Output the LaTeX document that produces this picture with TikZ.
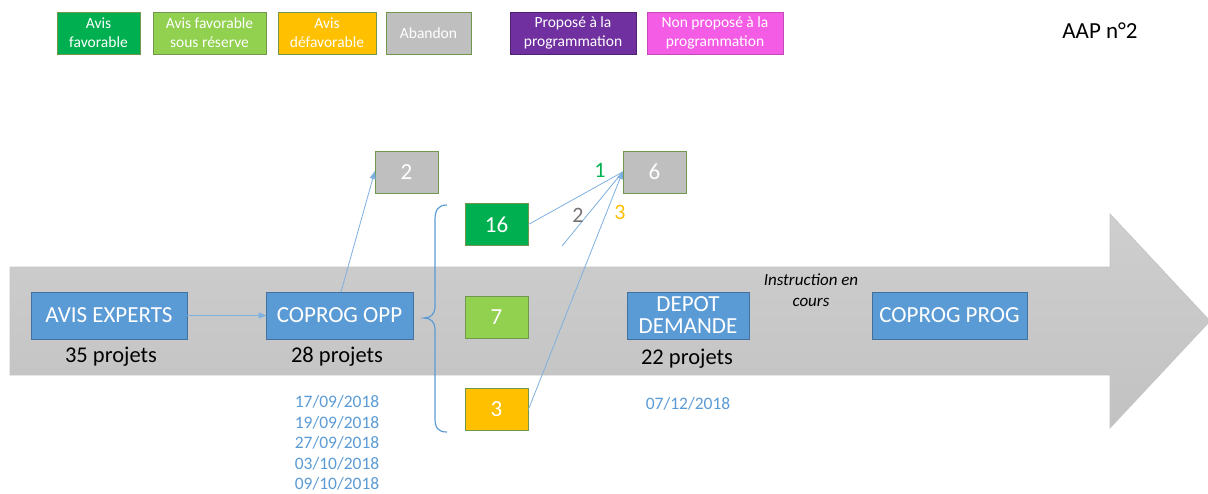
\documentclass[tikz,border=0pt]{standalone}
\usepackage{fontspec}
\setmainfont{Carlito}
\usetikzlibrary{arrows.meta}
\definecolor{cgreen}{HTML}{00B050}
\definecolor{clight}{HTML}{92D050}
\definecolor{corange}{HTML}{FFC000}
\definecolor{cgray}{HTML}{BFBFBF}
\definecolor{cpurple}{HTML}{7030A0}
\definecolor{cpink}{HTML}{F55CE6}
\definecolor{cblue}{HTML}{5B9BD5}
\definecolor{cblueb}{HTML}{41719C}
\definecolor{cedge}{HTML}{71964E}
\definecolor{clink}{HTML}{7EB0E0}
\definecolor{cnum}{HTML}{767171}
\tikzset{
  legend/.style={draw=cedge, line width=0.8pt, text=white, inner sep=0pt,
    minimum height=42, align=center, font=\fontsize{15.5}{19}\selectfont},
  stage/.style={draw=cblueb, fill=cblue, line width=0.8pt, text=white, inner sep=0pt,
    minimum height=47, align=center, font=\fontsize{23}{25}\selectfont},
  result/.style={draw=cedge, line width=0.8pt, text=white, inner sep=0pt,
    minimum width=63, minimum height=42, font=\fontsize{23}{25}\selectfont},
  count/.style={font=\fontsize{22.5}{24}\selectfont, text=black},
  date/.style={font=\fontsize{17.5}{20.5}\selectfont, text=cblue, align=center},
  branch/.style={font=\fontsize{22}{24}\selectfont},
  link/.style={draw=clink, line width=0.8pt},
  linkarrow/.style={link, -{Triangle[length=8pt,width=6pt]}, shorten >=-1pt},
  brace/.style={draw=cblue, line width=1.2pt},
}
\begin{document}
\begin{tikzpicture}[x=1pt,y=-1pt]
\useasboundingbox (0,0) rectangle (1208,493);

% timeline arrow
\path[draw=cgray!90, line width=0.8pt, top color=gray!38, bottom color=gray!48]
  (10,267) -- (1110,267) -- (1110,214) -- (1210,321) -- (1110,428)
  -- (1110,375) -- (10,375) -- cycle;

% legend
\node[legend, fill=cgreen, minimum width=83] (lg1) at (98.5,33) {Avis\\favorable};
\node[legend, fill=clight, minimum width=113] (lg2) at (209.5,33) {Avis favorable\\sous réserve};
\node[legend, fill=corange, minimum width=98] (lg3) at (327,33) {Avis\\défavorable};
\node[legend, fill=cgray, minimum width=85] (lg4) at (428.5,33) {Abandon};
\node[legend, fill=cpurple, draw=cpurple!70!black, minimum width=126] (lg5) at (573,33) {Proposé à la\\programmation};
\node[legend, fill=cpink, draw=cpink!80!black, minimum width=136] (lg6) at (715,33) {Non proposé à la\\programmation};
\node[font=\fontsize{23}{25}\selectfont] (aap) at (1100,31) {AAP n°2};

% stages
\node[stage, minimum width=156] (experts) at (109,315.5) {AVIS EXPERTS};
\node[stage, minimum width=147] (opp) at (339.5,315.5) {COPROG OPP};
\node[stage, minimum width=122, font=\fontsize{23}{22}\selectfont] (depot) at (688,315.5) {DEPOT\\DEMANDE};
\node[stage, minimum width=155] (prog) at (949.5,315.5) {COPROG PROG};

\node[count] (c35) at (111,357) {35 projets};
\node[count] (c28) at (337,357) {28 projets};
\node[count] (c22) at (687,359) {22 projets};

\node[font=\itshape\fontsize{17}{21}\selectfont, align=center] (instr) at (811,290) {Instruction en\\cours};

% dates
\node[date, anchor=north] (d1) at (337,392) {17/09/2018\\19/09/2018\\27/09/2018\\03/10/2018\\09/10/2018};
\node[date] (d2) at (688,404) {07/12/2018};

% results
\node[result, fill=cgray] (b2) at (406.5,172) {2};
\node[result, fill=cgreen] (b16) at (496.5,224.5) {16};
\node[result, fill=clight] (b7) at (496.5,317.5) {7};
\node[result, fill=corange] (b3) at (496.5,409.5) {3};
\node[result, fill=cgray] (b6) at (654.5,172) {6};

% brace
\draw[brace] (447,205) .. controls (438,205) and (435,210) .. (435,220) -- (435,306)
  .. controls (435,314) and (431,318) .. (424,318)
  .. controls (431,318) and (435,322) .. (435,330) -- (435,418)
  .. controls (435,428) and (438,432) .. (447,432);

% connectors
\coordinate (oppTop) at (341,292);
\coordinate (abd) at (562,246);
\draw[linkarrow] (experts) -- (opp);
\draw[linkarrow] (oppTop) -- (b2.west);
\draw[link] (b16.east) -- (b6.west);
\draw[link] (abd) -- (b6.west);
\draw[linkarrow] (b3.east) -- (b6.west);

% branch counts
\node[branch, text=cgreen] (n1) at (600,170) {1};
\node[branch, text=cnum] (n2) at (578,215) {2};
\node[branch, text=corange] (n3) at (620,212) {3};
\end{tikzpicture}
\end{document}
